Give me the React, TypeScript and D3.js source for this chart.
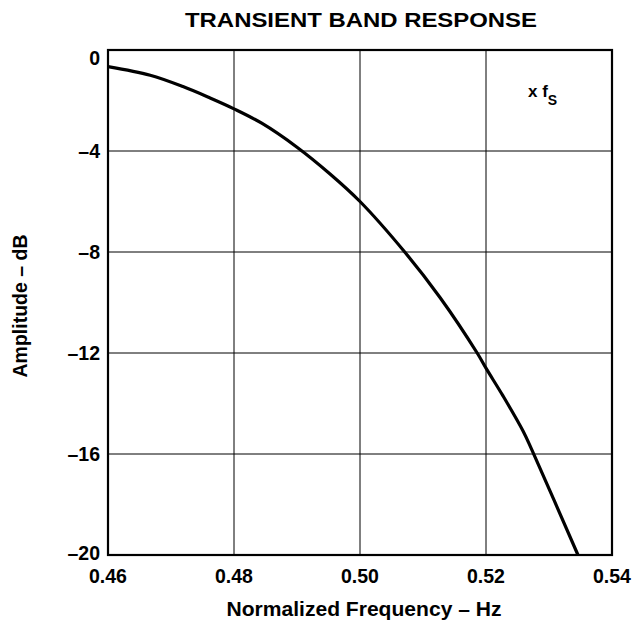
import { useEffect, useRef } from 'react';
import * as d3 from 'd3';

const freq = [0.46, 0.4667, 0.4719, 0.4762, 0.48, 0.4844, 0.49, 0.4952, 0.50, 0.5071, 0.5127, 0.5186, 0.52, 0.5227, 0.5259, 0.5273, 0.5346];
const ampDb = [-0.66, -1.0, -1.45, -1.9, -2.33, -2.9, -3.85, -4.9, -6.0, -8.0, -9.8, -12.0, -12.6, -13.7, -15.1, -15.85, -20.0];

const xTicks = [0.46, 0.48, 0.50, 0.52, 0.54];
const yTicks = [0, -4, -8, -12, -16, -20];

export default function App() {
  const svgRef = useRef<SVGSVGElement>(null);

  useEffect(() => {
    if (!svgRef.current) return;
    const width = 639;
    const height = 625;
    const left = 108, right = 612, top = 50, bottom = 555;
    const font = "'Liberation Sans', Arial, Helvetica, sans-serif";

    const svg = d3.select(svgRef.current);
    svg.selectAll("*").remove();
    svg.attr("width", width).attr("height", height);

    const x = d3.scaleLinear().domain([0.46, 0.54]).range([left, right]);
    const y = d3.scaleLinear().domain([-20, 0]).range([bottom, top]);

    // grid
    svg.append("g")
      .selectAll("line")
      .data(xTicks.slice(1, -1))
      .enter()
      .append("line")
      .attr("x1", d => x(d)).attr("x2", d => x(d))
      .attr("y1", top).attr("y2", bottom)
      .attr("stroke", "#000").attr("stroke-width", 1);

    svg.append("g")
      .selectAll("line")
      .data(yTicks.slice(1, -1))
      .enter()
      .append("line")
      .attr("x1", left).attr("x2", right)
      .attr("y1", d => y(d)).attr("y2", d => y(d))
      .attr("stroke", "#000").attr("stroke-width", 1);

    // frame
    svg.append("rect")
      .attr("x", left).attr("y", top)
      .attr("width", right - left).attr("height", bottom - top)
      .attr("fill", "none").attr("stroke", "#000").attr("stroke-width", 2.2);

    // curve
    const pts = freq.map((f, i) => [f, ampDb[i]] as [number, number]);
    const line = d3.line<[number, number]>()
      .x(d => x(d[0]))
      .y(d => y(d[1]))
      .curve(d3.curveCatmullRom.alpha(0.5));
    svg.append("path")
      .attr("d", line(pts))
      .attr("fill", "none")
      .attr("stroke", "#000")
      .attr("stroke-width", 3.2);

    // tick labels
    svg.append("g")
      .selectAll("text")
      .data(xTicks)
      .enter()
      .append("text")
      .attr("x", d => x(d))
      .attr("y", 583)
      .attr("text-anchor", "middle")
      .attr("font-family", font).attr("font-weight", "bold").attr("font-size", "19.5px")
      .text(d => d.toFixed(2));

    svg.append("g")
      .selectAll("text")
      .data(yTicks)
      .enter()
      .append("text")
      .attr("x", 100)
      .attr("y", d => y(d) + (d === 0 ? 15 : d === -20 ? 5 : 7))
      .attr("text-anchor", "end")
      .attr("font-family", font).attr("font-weight", "bold").attr("font-size", "19.5px")
      .text(d => (d < 0 ? "\u2013" + Math.abs(d) : String(d)));

    // titles
    svg.append("text")
      .attr("x", 361).attr("y", 27)
      .attr("text-anchor", "middle")
      .attr("textLength", 352).attr("lengthAdjust", "spacingAndGlyphs")
      .attr("font-family", font).attr("font-weight", "bold").attr("font-size", "21px")
      .text("TRANSIENT BAND RESPONSE");

    svg.append("text")
      .attr("x", 364).attr("y", 616)
      .attr("text-anchor", "middle")
      .attr("textLength", 275).attr("lengthAdjust", "spacingAndGlyphs")
      .attr("font-family", font).attr("font-weight", "bold").attr("font-size", "19.5px")
      .text("Normalized Frequency \u2013 Hz");

    svg.append("text")
      .attr("transform", `translate(27, 306) rotate(-90)`)
      .attr("text-anchor", "middle")
      .attr("font-family", font).attr("font-weight", "bold").attr("font-size", "19.5px")
      .text("Amplitude \u2013 dB");

    const fs = svg.append("text")
      .attr("x", 528).attr("y", 97)
      .attr("font-family", font).attr("font-weight", "bold").attr("font-size", "17px");
    fs.append("tspan").text("x f");
    fs.append("tspan").attr("dy", 8).attr("font-size", "14px").text("S");
  }, []);

  return (
    <svg ref={svgRef} style={{ position: 'absolute', left: 0, top: 0, background: '#fff' }} width={639} height={625}></svg>
  );
}
